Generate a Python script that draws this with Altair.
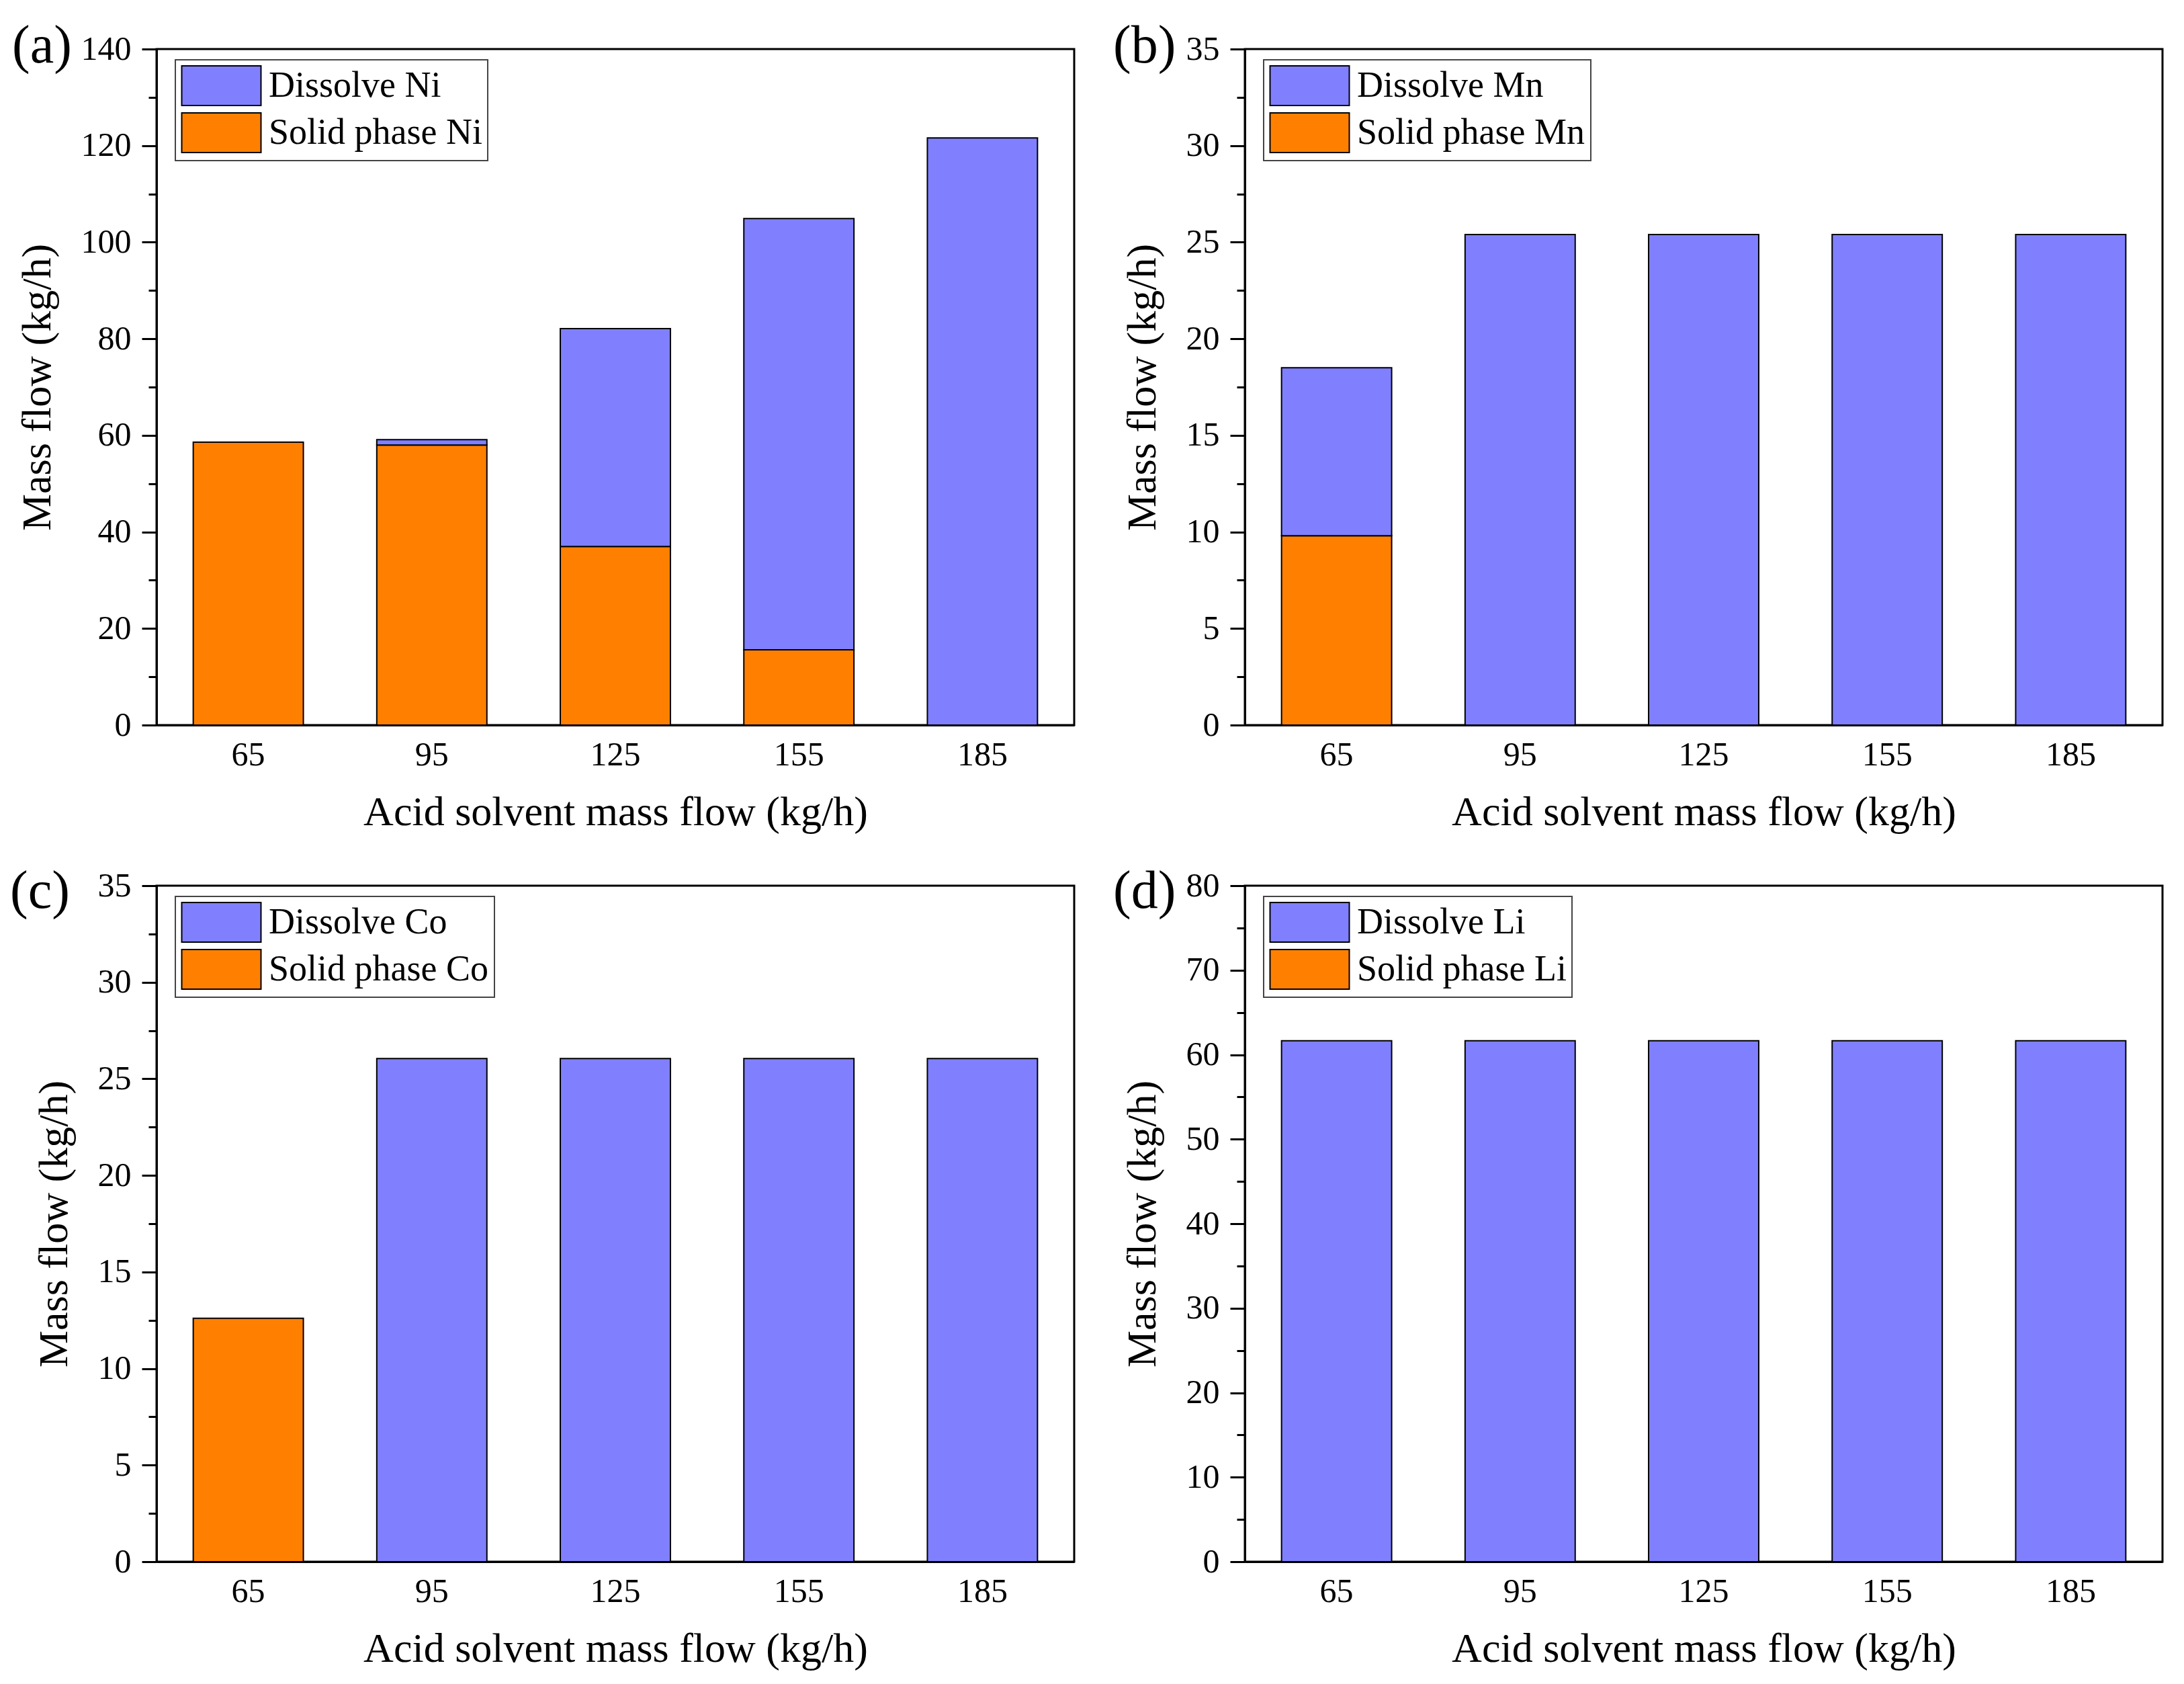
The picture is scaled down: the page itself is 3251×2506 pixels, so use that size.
import altair as alt
import pandas as pd

FONT = "Liberation Serif"
BLUE = "#8080FF"
ORANGE = "#FF8000"

flows = ["65", "95", "125", "155", "185"]

ni_dissolve = [0.0, 1.1, 45.1, 89.3, 121.6]
ni_solid = [58.6, 58.0, 37.0, 15.6, 0.0]

mn_dissolve = [8.7, 25.4, 25.4, 25.4, 25.4]
mn_solid = [9.8, 0.0, 0.0, 0.0, 0.0]

co_dissolve = [0.0, 26.05, 26.05, 26.05, 26.05]
co_solid = [12.6, 0.0, 0.0, 0.0, 0.0]

li_dissolve = [61.65, 61.65, 61.65, 61.65, 61.65]
li_solid = [0.0, 0.0, 0.0, 0.0, 0.0]

W, H = 1366, 1006


def panel(letter, elem, dissolve, solid, ymax, major, minor, lx, ly):
    rows = []
    for f, d, s in zip(flows, dissolve, solid):
        rows.append({"flow": f, "phase": f"Solid phase {elem}", "value": s, "ord": 0})
        rows.append({"flow": f, "phase": f"Dissolve {elem}", "value": d, "ord": 1})
    df = pd.DataFrame(rows)
    df = df[df["value"] > 0]
    labels = [f"Dissolve {elem}", f"Solid phase {elem}"]
    n = int(round(ymax / minor))
    ticks = [round(i * minor, 4) for i in range(n + 1)]
    test = f"abs(datum.value / {major} - round(datum.value / {major})) < 1e-6"
    bars = alt.Chart(df).mark_bar(stroke="black", strokeWidth=2).encode(
        x=alt.X(
            "flow:N",
            sort=flows,
            scale=alt.Scale(paddingInner=0.4, paddingOuter=0.2),
            axis=alt.Axis(
                title="Acid solvent mass flow (kg/h)",
                labelAngle=0,
                ticks=False,
                labelPadding=19,
                titlePadding=30,
                labelFontSize=50,
                titleFontSize=62,
            ),
        ),
        y=alt.Y(
            "value:Q",
            stack="zero",
            scale=alt.Scale(domain=[0, ymax], nice=False, zero=True),
            axis=alt.Axis(
                title="Mass flow (kg/h)",
                values=ticks,
                labelExpr=f"{test} ? datum.label : ''",
                tickSize={"condition": {"test": test, "value": 22}, "value": 12},
                labelPadding=16,
                titlePadding=33,
                labelFontSize=50,
                titleFontSize=62,
            ),
        ),
        color=alt.Color(
            "phase:N",
            scale=alt.Scale(domain=labels, range=[BLUE, ORANGE]),
            legend=alt.Legend(
                title=None,
                orient="none",
                legendX=28,
                legendY=16,
                symbolType="M-2,-1H2V1H-2Z",
                symbolSize=3481,
                symbolStrokeColor="black",
                symbolStrokeWidth=2,
                symbolOpacity=1,
                symbolOffset=30,
                labelOffset=40,
                labelFontSize=54,
                labelFont=FONT,
                labelColor="black",
                labelLimit=1000,
                strokeColor="#444444",
                fillColor="white",
            ),
        ),
        order=alt.Order("ord:Q"),
    )
    txt = alt.Chart(pd.DataFrame({"t": [f"({letter})"]})).mark_text(
        align="left", baseline="alphabetic", fontSize=80, font=FONT, color="black"
    ).encode(text="t:N", x=alt.value(lx), y=alt.value(ly))
    return alt.layer(bars, txt).properties(width=W, height=H)


pa = panel("a", "Ni", ni_dissolve, ni_solid, 140, 20, 10, -215, 20)
pb = panel("b", "Mn", mn_dissolve, mn_solid, 35, 5, 2.5, -196, 20)
pc = panel("c", "Co", co_dissolve, co_solid, 35, 5, 2.5, -218, 33)
pd_ = panel("d", "Li", li_dissolve, li_solid, 80, 10, 5, -196, 33)

res = dict(color="independent", y="independent", x="independent")
top = alt.hconcat(pa, pb, spacing=54).resolve_scale(**res)
bottom = alt.hconcat(pc, pd_, spacing=54).resolve_scale(**res)

chart = (
    alt.vconcat(top, bottom, spacing=44)
    .resolve_scale(**res)
    .properties(padding={"left": 5, "top": 19, "right": 5, "bottom": 5}, background="white")
    .configure_view(stroke="black", strokeWidth=3)
    .configure_axis(
        domainColor="black",
        domainWidth=3,
        tickColor="black",
        tickWidth=3,
        labelFont=FONT,
        titleFont=FONT,
        labelColor="black",
        titleColor="black",
        titleFontWeight="normal",
        grid=False,
    )
    .configure_legend(rowPadding=3, padding=8, strokeWidth=2)
)

chart.save("out.html", embed_options={"renderer": "svg", "actions": False})
